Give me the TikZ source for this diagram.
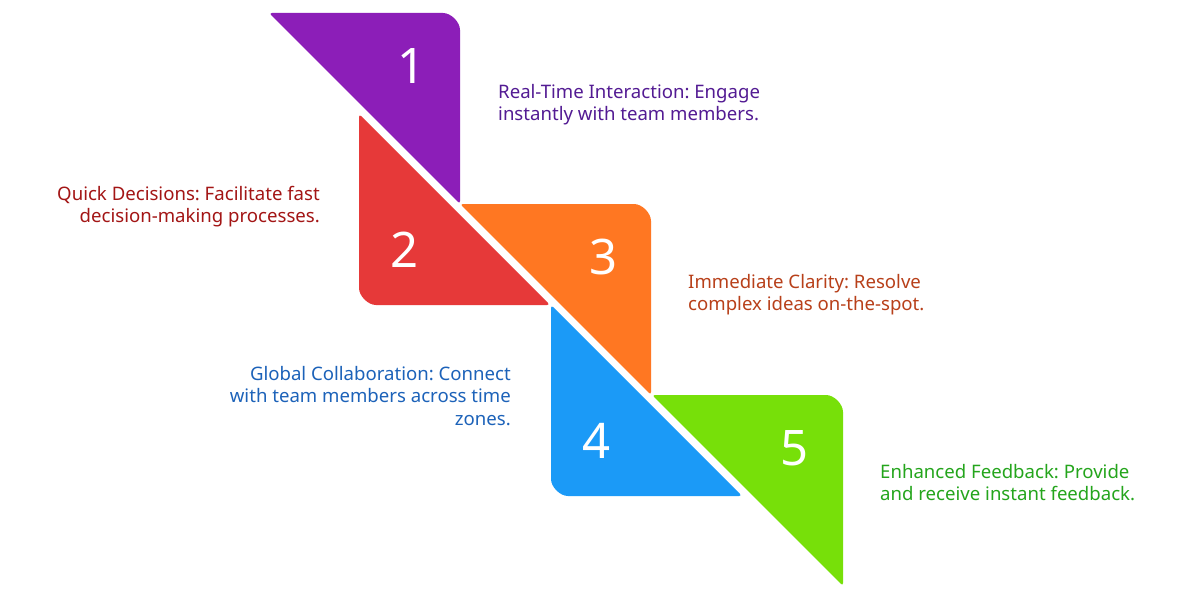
\documentclass[tikz,border=0pt]{standalone}
\usepackage{fontspec}
\setmainfont{Noto Sans}
\frenchspacing
\definecolor{cPur}{HTML}{8C1EB8}
\definecolor{cRed}{HTML}{E63939}
\definecolor{cOra}{HTML}{FF7722}
\definecolor{cBlu}{HTML}{1B9AF7}
\definecolor{cGre}{HTML}{77E009}
\definecolor{tPur}{HTML}{531B93}
\definecolor{tRed}{HTML}{A31515}
\definecolor{tOra}{HTML}{B8401A}
\definecolor{tBlu}{HTML}{1C62B9}
\definecolor{tGre}{HTML}{24A51C}
\def\L{191}\def\R{20}\def\K{9}
% upper-right triangle: right angle at top-right corner (#1,#2)
\newcommand\triUR[3]{\fill[#3,rounded corners=3] (#1-\L,#2) -- (#1-\R,#2) .. controls (#1-\K,#2) and (#1,#2+\K) .. (#1,#2+\R) -- (#1,#2+\L) -- cycle;}
% lower-left triangle: right angle at bottom-left corner (#1,#2)
\newcommand\triLL[3]{\fill[#3,rounded corners=3] (#1,#2-\L) -- (#1,#2-\R) .. controls (#1,#2-\K) and (#1+\K,#2) .. (#1+\R,#2) -- (#1+\L,#2) -- cycle;}
\tikzset{
  num/.style={text=white,inner sep=0pt,font=\fontsize{49}{49}\selectfont},
  lab/.style={inner sep=0pt,font=\fontsize{18.6}{22.5}\selectfont}
}
\begin{document}
\begin{tikzpicture}[x=1pt,y=-1pt]
\useasboundingbox[fill=white] (0,0) rectangle (1200,594);
\triUR{460}{13}{cPur}
\triLL{359}{305}{cRed}
\triUR{651}{204}{cOra}
\triLL{551}{496}{cBlu}
\triUR{843}{395}{cGre}
\node[num] (n1) at (412,66) {1};
\node[num] (n2) at (405,250) {2};
\node[num] (n3) at (604,257) {3};
\node[num] (n4) at (597,441) {4};
\node[num] (n5) at (795,448) {5};
\node[lab,text=tPur,align=left,anchor=north west] (l1) at (498,84) {Real-Time Interaction: Engage\\instantly with team members.};
\node[lab,text=tRed,align=right,anchor=north east] (l2) at (320,186) {Quick Decisions: Facilitate fast\\decision-making processes.};
\node[lab,text=tOra,align=left,anchor=north west] (l3) at (688,274) {Immediate Clarity: Resolve\\complex ideas on-the-spot.};
\node[lab,text=tBlu,align=right,anchor=north east] (l4) at (511,366) {Global Collaboration: Connect\\with team members across time\\zones.};
\node[lab,text=tGre,align=left,anchor=north west] (l5) at (880,464) {Enhanced Feedback: Provide\\and receive instant feedback.};
\end{tikzpicture}
\end{document}
